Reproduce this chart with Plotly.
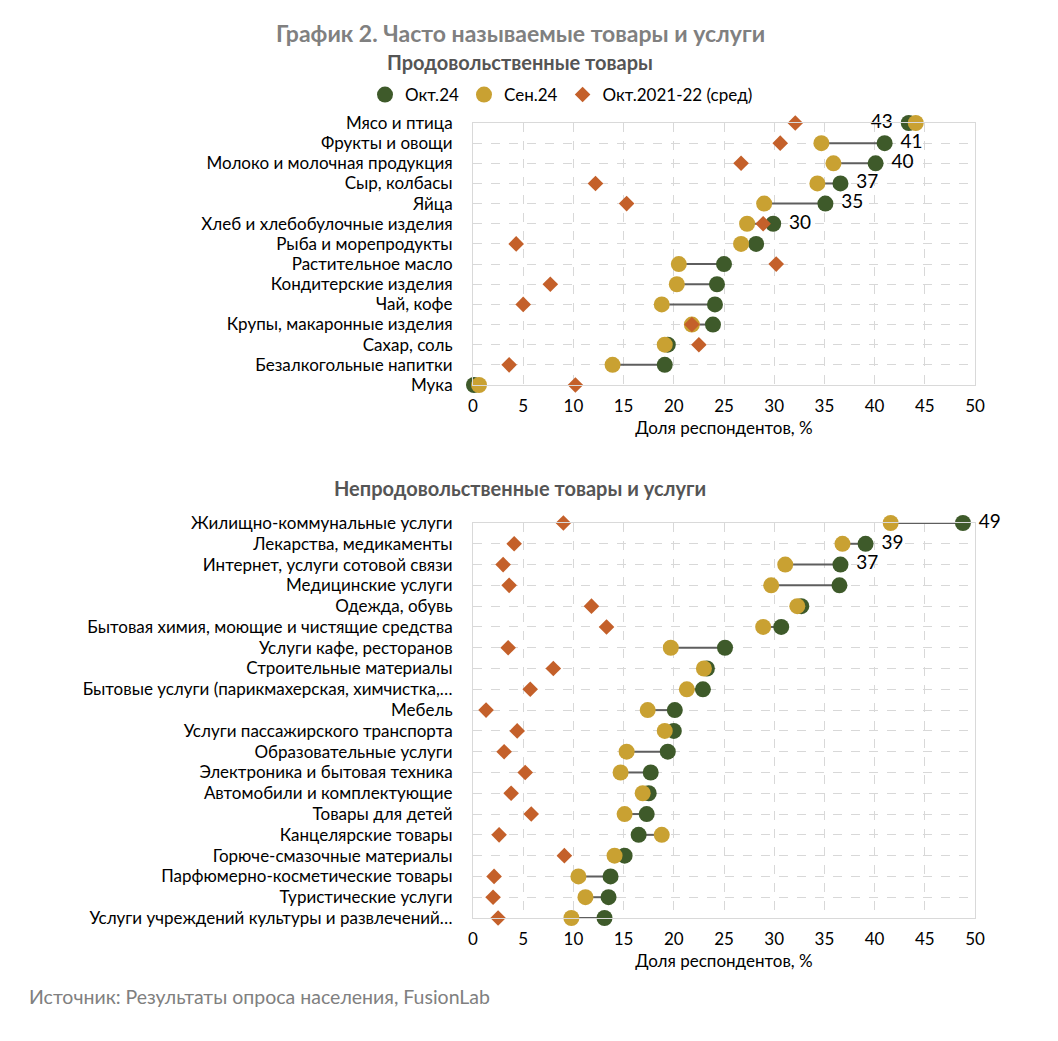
import plotly.graph_objects as go

# ---------------- data ----------------
food_cats = ["Мясо и птица", "Фрукты и овощи", "Молоко и молочная продукция", "Сыр, колбасы",
             "Яйца", "Хлеб и хлебобулочные изделия", "Рыба и морепродукты", "Растительное масло",
             "Кондитерские изделия", "Чай, кофе", "Крупы, макаронные изделия", "Сахар, соль",
             "Безалкогольные напитки", "Мука"]
food_oct24 = [43.4, 41.0, 40.1, 36.6, 35.1, 29.9, 28.2, 25.0, 24.3, 24.1, 23.9, 19.4, 19.1, 0.1]
food_sep24 = [44.1, 34.7, 35.9, 34.3, 29.0, 27.3, 26.7, 20.5, 20.3, 18.8, 21.8, 19.1, 13.9, 0.6]
food_avg = [32.1, 30.6, 26.7, 12.2, 15.3, 28.9, 4.3, 30.2, 7.7, 5.0, 21.8, 22.5, 3.6, 10.2]
food_labeled = 6

nonfood_cats = ["Жилищно-коммунальные услуги", "Лекарства, медикаменты", "Интернет, услуги сотовой связи",
                "Медицинские услуги", "Одежда, обувь", "Бытовая химия, моющие и чистящие средства",
                "Услуги кафе, ресторанов", "Строительные материалы",
                "Бытовые услуги (парикмахерская, химчистка,…", "Мебель",
                "Услуги пассажирского транспорта", "Образовательные услуги",
                "Электроника и бытовая техника", "Автомобили и комплектующие", "Товары для детей",
                "Канцелярские товары", "Горюче-смазочные материалы",
                "Парфюмерно-косметические товары", "Туристические услуги",
                "Услуги учреждений культуры и развлечений…"]
nonfood_oct24 = [48.8, 39.1, 36.6, 36.5, 32.7, 30.7, 25.1, 23.3, 22.9, 20.1, 20.0, 19.4, 17.7,
                 17.5, 17.3, 16.5, 15.1, 13.7, 13.5, 13.1]
nonfood_sep24 = [41.6, 36.8, 31.1, 29.7, 32.3, 28.9, 19.7, 23.0, 21.3, 17.4, 19.1, 15.3, 14.7,
                 16.9, 15.1, 18.8, 14.1, 10.5, 11.2, 9.8]
nonfood_avg = [9.0, 4.1, 3.0, 3.6, 11.8, 13.3, 3.5, 8.0, 5.7, 1.3, 4.4, 3.1, 5.2, 3.8, 5.8,
               2.6, 9.1, 2.1, 2.0, 2.5]
nonfood_labeled = 3

series_names = ["Окт.24", "Сен.24", "Окт.2021-22 (сред)"]
x_ticks = list(range(0, 51, 5))

# ---------------- style ----------------
C_GREEN = "#3E5A2A"
C_GOLD = "#C9A132"
C_ORANGE = "#C4602A"
C_LINE = "#5E5E5E"
FONT = "Lato"
FS = 17
W, H = 1058, 1041

fig = go.Figure()


def add_panel(cats, oct24, sep24, avg, n_lab, xa, ya, show_legend):
    ys = list(range(len(cats)))
    lx, ly = [], []
    for y, a, b in zip(ys, oct24, sep24):
        lx += [a, b, None]
        ly += [y, y, None]
    fig.add_trace(go.Scatter(x=lx, y=ly, mode="lines", line=dict(color=C_LINE, width=2),
                             showlegend=False, hoverinfo="skip", xaxis=xa, yaxis=ya, cliponaxis=False))
    texts, pos = [], []
    for i, (a, b) in enumerate(zip(oct24, sep24)):
        if i < n_lab:
            texts.append(f"{a:.0f} " if b > a else f" {a:.0f}")
        else:
            texts.append("")
        pos.append("middle left" if b > a else "middle right")
    fig.add_trace(go.Scatter(x=oct24, y=ys, mode="markers+text", name=series_names[0],
                             marker=dict(color=C_GREEN, size=16, symbol="circle"),
                             text=texts, textposition=pos,
                             textfont=dict(family=FONT, size=19, color="#000000"),
                             showlegend=show_legend, legendrank=1, xaxis=xa, yaxis=ya, cliponaxis=False))
    fig.add_trace(go.Scatter(x=sep24, y=ys, mode="markers", name=series_names[1],
                             marker=dict(color=C_GOLD, size=16, symbol="circle"),
                             showlegend=show_legend, legendrank=2, xaxis=xa, yaxis=ya, cliponaxis=False))
    fig.add_trace(go.Scatter(x=avg, y=ys, mode="markers", name=series_names[2],
                             marker=dict(color=C_ORANGE, size=12, symbol="diamond"),
                             showlegend=show_legend, legendrank=3, xaxis=xa, yaxis=ya, cliponaxis=False))


add_panel(food_cats, food_oct24, food_sep24, food_avg, food_labeled, "x", "y", True)
add_panel(nonfood_cats, nonfood_oct24, nonfood_sep24, nonfood_avg, nonfood_labeled, "x2", "y2", False)

x0, x1 = 473 / W, 975 / W


def xaxis(anchor):
    return dict(domain=[x0, x1], range=[0, 50], tickvals=x_ticks, anchor=anchor, automargin=False,
                showgrid=True, gridcolor="#D8D8D8", griddash="dash", gridwidth=1,
                zeroline=False, showline=True, linecolor="#D9D9D9", mirror=True,
                ticks="outside", ticklen=6, tickcolor="rgba(0,0,0,0)",
                tickfont=dict(family=FONT, size=FS, color="#000000"),
                title=dict(text="Доля респондентов, %", font=dict(family=FONT, size=FS, color="#000000"),
                           standoff=6),
                fixedrange=True)


def yaxis(cats, top_px, bot_px, anchor):
    return dict(domain=[1 - bot_px / H, 1 - top_px / H], range=[len(cats) - 1, 0],
                tickvals=list(range(len(cats))), ticktext=cats, anchor=anchor, automargin=False,
                showgrid=True, gridcolor="#D8D8D8", griddash="dash", gridwidth=1,
                zeroline=False, showline=True, linecolor="#D9D9D9", mirror=True,
                ticks="outside", ticklen=16, tickcolor="rgba(0,0,0,0)",
                tickfont=dict(family=FONT, size=FS, color="#000000"), fixedrange=True)


fig.update_layout(
    width=W, height=H, margin=dict(l=0, r=0, t=0, b=0),
    paper_bgcolor="white", plot_bgcolor="white",
    xaxis=xaxis("y"), yaxis=yaxis(food_cats, 123, 385, "x"),
    xaxis2=xaxis("y2"), yaxis2=yaxis(nonfood_cats, 523, 918, "x2"),
    legend=dict(orientation="h", x=365 / W, xanchor="left", y=1 - 95 / H, yanchor="middle",
                font=dict(family=FONT, size=FS, color="#000000"), itemwidth=30,
                traceorder="normal"),
    annotations=[
        dict(text="<b>График 2. Часто называемые товары и услуги</b>", x=520 / W, y=1 - 33 / H,
             xref="paper", yref="paper", showarrow=False, xanchor="center", yanchor="middle",
             font=dict(family=FONT, size=23, color="#808080")),
        dict(text="<b>Продовольственные товары</b>", x=520 / W, y=1 - 62 / H,
             xref="paper", yref="paper", showarrow=False, xanchor="center", yanchor="middle",
             font=dict(family=FONT, size=20, color="#555555")),
        dict(text="<b>Непродовольственные товары и услуги</b>", x=520 / W, y=1 - 488 / H,
             xref="paper", yref="paper", showarrow=False, xanchor="center", yanchor="middle",
             font=dict(family=FONT, size=20, color="#555555")),
        dict(text="Источник: Результаты опроса населения, FusionLab", x=27 / W, y=1 - 996 / H,
             xref="paper", yref="paper", showarrow=False, xanchor="left", yanchor="middle",
             font=dict(family=FONT, size=19.5, color="#808080")),
    ],
)

fig.write_html("out.html")
